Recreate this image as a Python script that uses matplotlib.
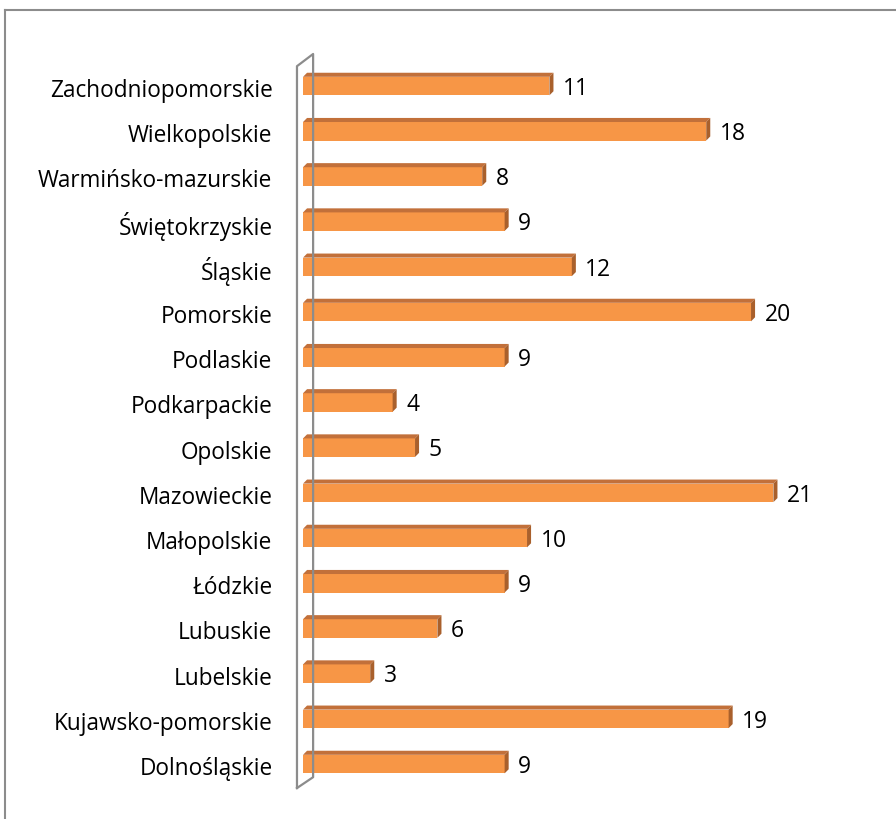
import matplotlib
matplotlib.use('Agg')
import matplotlib.pyplot as plt
from matplotlib.patches import Rectangle, Polygon
from matplotlib.lines import Line2D

# Regions, bottom to top as drawn
regions = ['Dolnośląskie', 'Kujawsko-pomorskie', 'Lubelskie', 'Lubuskie', 'Łódzkie',
           'Małopolskie', 'Mazowieckie', 'Opolskie', 'Podkarpackie', 'Podlaskie',
           'Pomorskie', 'Śląskie', 'Świętokrzyskie', 'Warmińsko-mazurskie',
           'Wielkopolskie', 'Zachodniopomorskie']
counts = [9, 19, 3, 6, 9, 10, 21, 5, 4, 9, 20, 12, 9, 8, 18, 11]

front = '#F79646'
top_col = '#C2703A'
side_col = '#A9602C'
wall = '#8C8C8C'

plt.rcParams['font.family'] = ['Open Sans', 'DejaVu Sans']

fig = plt.figure(figsize=(8.96, 8.20), dpi=100)
ax = fig.add_axes([0.3257, 0.0328, 0.6125, 0.904])
ax.set_xlim(-0.5, 24)
ax.set_ylim(-0.6, 15.8)

bh = 0.41      # front face height
dx = 0.18      # depth offset in x
dy = 0.09      # depth offset in y
for i, v in enumerate(counts):
    y0 = i - bh / 2 + 0.02
    ax.add_patch(Rectangle((0, y0), v, bh, facecolor=front, edgecolor='none'))
    ax.add_patch(Polygon([(0, y0 + bh), (v, y0 + bh), (v + dx, y0 + bh + dy), (dx, y0 + bh + dy)],
                         closed=True, facecolor=top_col, edgecolor='none'))
    ax.add_patch(Polygon([(v, y0), (v + dx, y0 + dy), (v + dx, y0 + bh + dy), (v, y0 + bh)],
                         closed=True, facecolor=side_col, edgecolor='none'))
    ax.text(v + 0.6, i - 0.02, str(v), va='center', ha='left', fontsize=16.5, color='black')

# 3D side wall of the category axis
xl, xr = -0.27, 0.45
ax.plot([xl, xl, xr, xr, xl, xl], [-0.51, 15.46, 15.73, -0.27, -0.51, -0.51],
        color=wall, lw=1.6, clip_on=False)

ax.set_yticks(range(len(regions)))
ax.set_yticklabels(regions, fontsize=16.3)
ax.tick_params(axis='y', length=0, pad=14)
ax.set_xticks([])
for s in ax.spines.values():
    s.set_visible(False)

# outer chart frame
fig.add_artist(Line2D([5 / 896, 1], [1 - 11 / 820, 1 - 11 / 820], color='#8C8C8C', lw=1.5))
fig.add_artist(Line2D([5 / 896, 5 / 896], [0, 1 - 11 / 820], color='#8C8C8C', lw=1.5))

fig.savefig('out.png', dpi=100)
